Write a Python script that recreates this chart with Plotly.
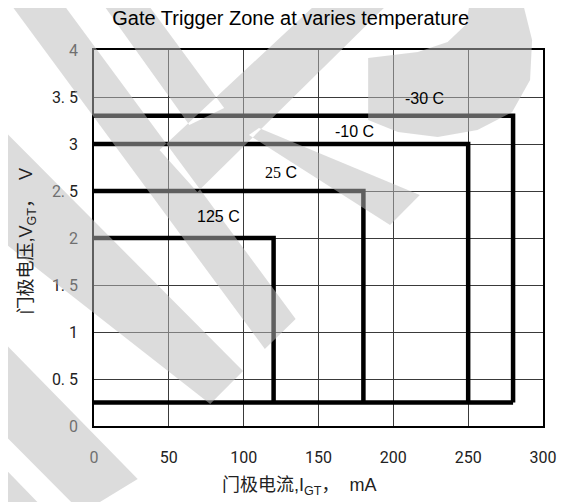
import plotly.graph_objects as go

# ---------------- data ----------------
temps = ["125 C", "25 C", "-10 C", "-30 C"]
igt_max = [120, 180, 250, 280]          # mA
vgt_max = [2.0, 2.5, 3.0, 3.3]          # V
vgt_min = 0.25                           # V
x_ticks = [0, 50, 100, 150, 200, 250, 300]
y_ticks = [0, 0.5, 1, 1.5, 2, 2.5, 3, 3.5, 4]
y_ticktext = ["0", "0. 5", "1", "1. 5", "2", "2. 5", "3", "3. 5", "4"]

# label anchor positions (layout, data units)
label_pos = {"-30 C": (221, 3.48), "-10 C": (174, 3.13), "25 C": (125, 2.70), "125 C": (83, 2.23)}

# page body has an 8px margin -> figure drawn 8px right/down of the window corner
OFF = 8
W, H = 568 - OFF, 502 - OFF
# plot area in window pixels
PX0, PX1, PY0, PY1 = 94, 546, 50, 426
PW, PH = PX1 - PX0, PY1 - PY0
ML, MT = PX0 - OFF, PY0 - OFF
MR, MB = W - (PX1 - OFF), H - (PY1 - OFF)


def to_paper(p):
    return ((p[0] - PX0) / PW, (PY1 - p[1]) / PH)


fig = go.Figure()
for t, i, v in zip(temps, igt_max, vgt_max):
    fig.add_trace(go.Scatter(x=[0, i, i], y=[v, v, vgt_min], mode="lines",
                             line=dict(color="black", width=4.5), name=t,
                             hoverinfo="skip", cliponaxis=False))
fig.add_trace(go.Scatter(x=[0, max(igt_max)], y=[vgt_min, vgt_min], mode="lines",
                         line=dict(color="black", width=4.5), hoverinfo="skip",
                         cliponaxis=False))

annos = []
for t in temps:
    lx, ly = label_pos[t]
    txt = t
    if t == "25 C":
        txt = "<span style='font-family:Liberation Serif'>25</span> C"
    annos.append(dict(x=lx, y=ly, xref="x", yref="y", text=txt, showarrow=False,
                      xanchor="center", yanchor="middle",
                      font=dict(family="Liberation Sans", size=16, color="black")))

xt = to_paper((301, 487))
annos.append(dict(x=xt[0], y=xt[1], xref="paper", yref="paper",
                  xanchor="center", yanchor="middle",
                  text="门极电流,I<sub>GT</sub>，  mA", showarrow=False,
                  font=dict(family="Liberation Sans, Noto Sans CJK SC", size=18, color="#222")))
yt = to_paper((27, 241))
annos.append(dict(x=yt[0], y=yt[1], xref="paper", yref="paper",
                  xanchor="center", yanchor="middle",
                  text="门极电压,V<sub>GT</sub>，  V", showarrow=False, textangle=-90,
                  font=dict(family="Liberation Sans, Noto Sans CJK SC", size=18, color="#222")))

# ---------------- watermark (decoration, window-pixel outline) ----------------
WATERMARK = [
    [(7, 0), (60, 0), (297, 319), (266, 349)],
    [(100, 0), (145, 0), (225, 108), (190, 125)],
    [(322, 0), (394, 0), (198, 192), (160, 150)],
    [(250, 135), (260, 128), (422, 195), (392, 225)],
    [(473, 0), (525, 0), (535, 40), (533, 80), (515, 112), (480, 130), (440, 137),
     (400, 132), (370, 120), (370, 58), (420, 52), (450, 42), (468, 25)],
    [(0, 127), (244, 371), (211, 404), (0, 240)],
    [(0, 339), (138, 479), (100, 502), (71, 502), (0, 431)],
    [(0, 464), (37, 502), (0, 502)],
]

path = ""
for poly in WATERMARK:
    pts = [to_paper(p) for p in poly]
    n = len(pts)
    area = sum(pts[k][0] * pts[(k + 1) % n][1] - pts[(k + 1) % n][0] * pts[k][1] for k in range(n))
    if area < 0:
        pts = pts[::-1]
    path += "M" + "L".join(f"{a:.4f},{b:.4f}" for a, b in pts) + "Z"

shapes = [dict(type="path", path=path, xref="paper", yref="paper",
               fillcolor="rgba(186,186,186,0.51)", line=dict(width=0), layer="above")]

axis_common = dict(showgrid=True, gridcolor="#3a3a3a", gridwidth=1, zeroline=False,
                   showline=True, mirror=True, linecolor="black", linewidth=1.5,
                   ticks="", tickfont=dict(family="Roboto", size=16, color="#222"))

fig.update_layout(
    width=W, height=H, autosize=False,
    margin=dict(l=ML, r=MR, t=MT, b=MB),
    paper_bgcolor="white", plot_bgcolor="white",
    showlegend=False,
    title=dict(text="Gate Trigger Zone at varies temperature",
               x=to_paper((292, 0))[0], xref="paper", xanchor="center",
               y=1 - (18 - OFF) / H, yanchor="middle",
               font=dict(family="Liberation Sans", size=20, color="black")),
    xaxis=dict(range=[0, 300], tickvals=x_ticks, ticktext=[str(v) for v in x_ticks],
               ticklabelstandoff=16, **axis_common),
    yaxis=dict(range=[0, 4], tickvals=y_ticks, ticktext=y_ticktext,
               ticklabelstandoff=11, **axis_common),
    annotations=annos,
    shapes=shapes,
)

fig.write_html("out.html")
